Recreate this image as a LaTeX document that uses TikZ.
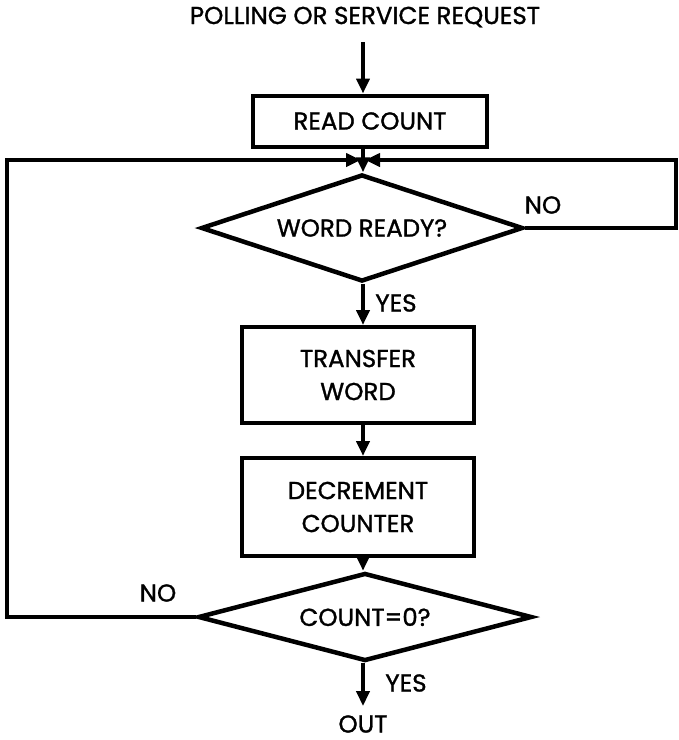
\documentclass[tikz,border=0pt]{standalone}
\usepackage{fontspec}
\setmainfont{Poppins}[BoldFont=Poppins,BoldFeatures={FakeBold=1.2}]
\usetikzlibrary{arrows.meta,shapes.geometric}

\begin{document}
\begin{tikzpicture}[x=1pt,y=1pt,yscale=-1,
  every node/.style={font=\bfseries\fontsize{24.5}{33}\selectfont,inner sep=0pt},
  box/.style={draw,line width=4pt,minimum width=232pt,align=center},
  cond/.style={draw,diamond,line width=4.5pt,aspect=3},
  flow/.style={line width=4pt,-{Triangle[length=15pt,width=13pt]}},
  link/.style={line width=4pt}]

\useasboundingbox (0,0) rectangle (679,740);

% boxes and decisions
\node (title) at (365,17) {POLLING OR SERVICE REQUEST};

\node [box,minimum width=234pt,minimum height=51pt] (read) at (370,121) {READ COUNT};

\node [cond,minimum width=322pt,minimum height=107pt] (ready) at (362,228) {WORD READY?};

\node [box,minimum height=96pt] (transfer) at (358,375) {TRANSFER\\WORD};

\node [box,minimum height=98pt] (decr) at (358,507) {DECREMENT\\COUNTER};

\node [cond,aspect=3.8,minimum width=334pt,minimum height=88pt] (zero) at (365,617) {COUNT=0?};

\node (out) at (363,724) {OUT};

% labels
\node (no1) at (543,205) {NO};

\node (yes1) at (396,303) {YES};

\node (no2) at (158,593) {NO};

\node (yes2) at (406,683) {YES};

% connectors
\coordinate (in) at (363,42);
\coordinate (join) at (363,160);
\coordinate (lcorner) at (7,160);
\coordinate (rcorner) at (676,160);

\draw [flow] (in) -- (in |- read.north);

\draw [link] (join |- read.south) -- (join);

\draw [flow] (join) -- (join |- ready.north);

\draw [flow,shorten >=2pt] (ready.east) -| (rcorner) -- (join);

\draw [flow,shorten >=2pt] (zero.west) -| (lcorner) -- (join);

\draw [flow] (join |- ready.south) -- (join |- transfer.north);

\draw [flow] (join |- transfer.south) -- (join |- decr.north);

\draw [flow] (join |- decr.south) -- (join |- zero.north);

\draw [flow,shorten >=9pt] (join |- zero.south) -- (join |- out.north);

\end{tikzpicture}
\end{document}
